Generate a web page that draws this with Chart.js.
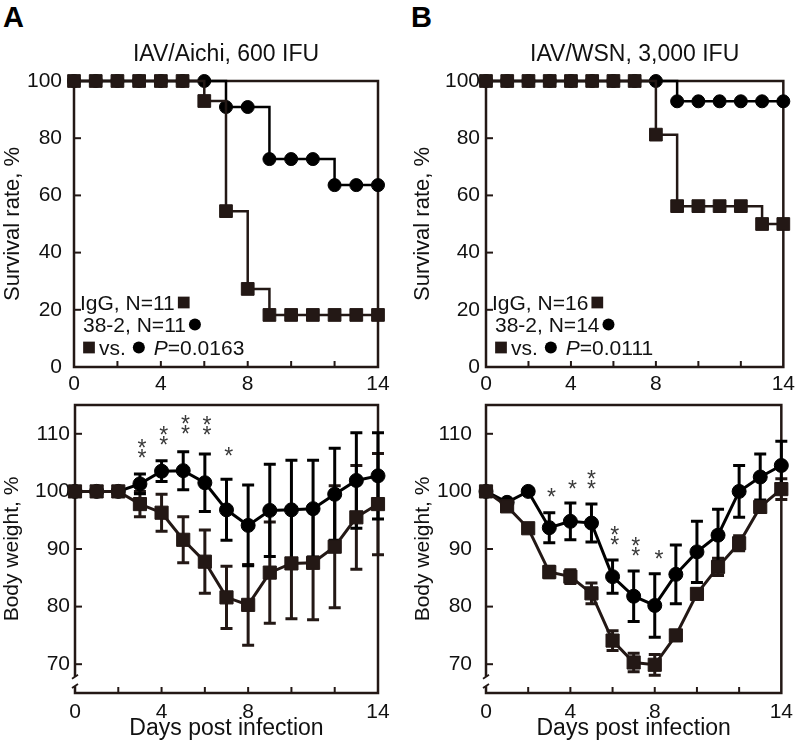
<!DOCTYPE html>
<html>
<head>
<meta charset="utf-8">
<script src="https://cdn.jsdelivr.net/npm/chart.js@4.4.1/dist/chart.umd.min.js"></script>
<style>
  html, body { margin: 0; padding: 0; background: #fff; }
  #wrap { position: relative; width: 800px; height: 749px; overflow: hidden; font-family: 'Liberation Sans', Arial, sans-serif; }
  canvas { position: absolute; }
  .panel { position: absolute; font-weight: bold; font-size: 29px; line-height: 29px; color: #000; }
</style>
</head>
<body>
<div id="wrap">
  <div class="panel" style="left:3px;top:3px">A</div>
  <div class="panel" style="left:411px;top:3px">B</div>
  <canvas id="survA" width="400" height="400" style="left:0;top:0"></canvas>
  <canvas id="survB" width="400" height="400" style="left:400px;top:0"></canvas>
  <canvas id="wtA" width="400" height="359" style="left:0;top:390px"></canvas>
  <canvas id="wtB" width="400" height="359" style="left:400px;top:390px"></canvas>
</div>
<script>
// jours et graduations
const days = [0, 1, 2, 3, 4, 5, 6, 7, 8, 9, 10, 11, 12, 13, 14];
const xTicks = [0, 2, 4, 6, 8, 10, 12, 14];
const xLabels = [0, 4, 8, 14];
const survTicks = [0, 20, 40, 60, 80, 100];
const weightTicks = [70, 80, 90, 100, 110];

// A : IAV/Aichi, 600 IFU
const survA_IgG = [100, 100, 100, 100, 100, 100, 93, 54.5, 27.3, 18.2, 18.2, 18.2, 18.2, 18.2, 18.2];
const survA_382 = [100, 100, 100, 100, 100, 100, 100, 90.9, 90.9, 72.7, 72.7, 72.7, 63.6, 63.6, 63.6];
const wtA_IgG = [100, 100, 100, 97.8, 96.3, 91.6, 87.8, 81.6, 80.3, 85.9, 87.5, 87.6, 90.4, 95.5, 97.8];
const sdA_IgG = [0.4, 0.4, 0.4, 2.2, 3.2, 4.0, 5.5, 5.4, 7.0, 8.8, 9.6, 9.9, 10.6, 9.0, 8.8];
const wtA_382 = [100, 100, 100, 101.3, 103.5, 103.6, 101.5, 96.8, 94.1, 96.7, 96.8, 97.0, 99.5, 101.9, 102.7];
const sdA_382 = [0.4, 0.4, 0.4, 1.7, 1.8, 3.3, 5.0, 5.3, 7.0, 8.0, 8.6, 8.4, 8.0, 8.3, 7.5];
const starA_day = [3.1, 4.1, 5.1, 6.1, 7.1];
const starA_val = [107.6, 109.8, 111.7, 111.5, 107.0];
const starA_n = [2, 2, 2, 2, 1];
const legendA = ['IgG, N=11', '38-2, N=11', '=0.0163'];

// B : IAV/WSN, 3,000 IFU
const survB_IgG = [100, 100, 100, 100, 100, 100, 100, 100, 81.25, 56.25, 56.25, 56.25, 56.25, 50, 50];
const survB_382 = [100, 100, 100, 100, 100, 100, 100, 100, 100, 92.9, 92.9, 92.9, 92.9, 92.9, 92.9];
const wtB_IgG = [100, 97.4, 93.6, 86.0, 85.2, 82.3, 74.1, 70.3, 69.9, 75.0, 82.2, 86.9, 91.0, 97.3, 100.4];
const sdB_IgG = [0.3, 0.6, 0.6, 1.0, 1.2, 1.8, 1.7, 1.6, 1.8, 0.5, 0.8, 1.5, 1.3, 0.8, 1.8];
const wtB_382 = [100, 98.1, 100, 93.7, 94.8, 94.5, 85.2, 81.8, 80.2, 85.6, 89.5, 92.4, 100, 102.5, 104.5];
const sdB_382 = [0.3, 0.5, 0.5, 2.6, 3.2, 3.3, 2.9, 4.4, 5.5, 5.1, 5.3, 4.5, 4.5, 4.0, 4.2];
const starB_day = [3.1, 4.1, 5.0, 6.1, 7.1, 8.2];
const starB_val = [99.9, 101.3, 102.2, 92.5, 90.6, 89.2];
const starB_n = [1, 1, 2, 2, 2, 1];
const legendB = ['IgG, N=16', '38-2, N=14', '=0.0111'];

const INK = '#231815';
const FONT = "'Liberation Sans', Arial, Helvetica, sans-serif";
Chart.defaults.font.family = FONT;
Chart.defaults.color = '#111';

function pts(vals) {
    return days.map((d, i) => ({ x: d, y: vals[i] }));
}

function series(vals, style, color, extra) {
    return Object.assign({
        data: pts(vals),
        borderColor: color,
        backgroundColor: color,
        pointBackgroundColor: color,
        pointBorderColor: color,
        pointBorderWidth: 1,
        pointStyle: style,
        clip: false,
    }, extra);
}

// cadre + graduations intérieures + coupure d'axe
function framePlugin(breakAt) {
    return {
        id: 'frame',
        beforeDatasetsDraw(chart) {
            const { ctx, chartArea: a, scales: { x, y } } = chart;
            ctx.save();
            ctx.strokeStyle = INK;
            ctx.lineWidth = 2.5;
            ctx.strokeRect(a.left, a.top, a.right - a.left, a.bottom - a.top);
            ctx.lineWidth = 2;
            x.ticks.forEach(t => {
                if (t.value <= x.min || t.value >= x.max) return;
                const px = x.getPixelForValue(t.value);
                ctx.beginPath();
                ctx.moveTo(px, a.bottom);
                ctx.lineTo(px, a.bottom - 6);
                ctx.stroke();
            });
            y.ticks.forEach(t => {
                if (t.value <= y.min || t.value >= y.max) return;
                const py = y.getPixelForValue(t.value);
                ctx.beginPath();
                ctx.moveTo(a.left, py);
                ctx.lineTo(a.left + 7, py);
                ctx.stroke();
            });
            if (breakAt) {
                const y1 = y.getPixelForValue(breakAt[0]);
                const y2 = y.getPixelForValue(breakAt[1]);
                ctx.fillStyle = '#fff';
                ctx.fillRect(a.left - 3, y1, 6, y2 - y1);
                ctx.lineWidth = 1.8;
                [y1, y2].forEach(yy => {
                    ctx.beginPath();
                    ctx.moveTo(a.left - 3, yy + 2);
                    ctx.lineTo(a.left + 3, yy - 2);
                    ctx.stroke();
                });
            }
            ctx.restore();
        }
    };
}

const errorBarPlugin = {
    id: 'errorBars',
    beforeDatasetsDraw(chart) {
        const { ctx, scales: { y } } = chart;
        ctx.save();
        ctx.lineWidth = 3;
        chart.data.datasets.forEach((ds, di) => {
            if (!ds.errors) return;
            ctx.strokeStyle = ds.borderColor;
            chart.getDatasetMeta(di).data.forEach((pt, i) => {
                const e = ds.errors[i];
                const v = ds.data[i].y;
                const top = y.getPixelForValue(v + e);
                const bot = y.getPixelForValue(v - e);
                ctx.beginPath();
                ctx.moveTo(pt.x, top); ctx.lineTo(pt.x, bot);
                ctx.moveTo(pt.x - 6, top); ctx.lineTo(pt.x + 6, top);
                ctx.moveTo(pt.x - 6, bot); ctx.lineTo(pt.x + 6, bot);
                ctx.stroke();
            });
        });
        ctx.restore();
    }
};

function starPlugin(sd, sv, sn) {
    return {
        id: 'stars',
        afterDatasetsDraw(chart) {
            const { ctx, scales: { x, y } } = chart;
            const size = 23;
            ctx.save();
            ctx.fillStyle = '#3a3a3a';
            ctx.font = size + 'px ' + FONT;
            ctx.textAlign = 'center';
            ctx.textBaseline = 'alphabetic';
            sd.forEach((d, i) => {
                const px = x.getPixelForValue(d);
                const py = y.getPixelForValue(sv[i]);
                const ys = sn[i] === 2 ? [py - 5, py + 5] : [py];
                ys.forEach(yy => ctx.fillText('*', px, yy + 0.575 * size));
            });
            ctx.restore();
        }
    };
}

function legendPlugin(lines) {
    return {
        id: 'survLegend',
        afterDraw(chart) {
            const { ctx, chartArea: a } = chart;
            const draw = Chart.helpers.drawPoint;
            const size = 21;
            const x0 = a.left + 6;
            const base = [310, 332, 355];
            const mid = b => b - 7.5;
            ctx.save();
            ctx.fillStyle = '#111';
            ctx.textAlign = 'left';
            ctx.textBaseline = 'alphabetic';
            ctx.font = size + 'px ' + FONT;
            // ligne 1
            ctx.fillText(lines[0], x0, base[0]);
            let w = ctx.measureText(lines[0]).width;
            ctx.fillStyle = INK;
            draw(ctx, { pointStyle: 'rect', radius: 8.3, rotation: 0 }, x0 + w + 9, mid(base[0]));
            // ligne 2
            ctx.fillStyle = '#111';
            ctx.fillText(lines[1], x0 + 3, base[1]);
            w = ctx.measureText(lines[1]).width;
            ctx.fillStyle = '#000';
            draw(ctx, { pointStyle: 'circle', radius: 6, rotation: 0 }, x0 + 3 + w + 9, mid(base[1]));
            // ligne 3
            let cx = x0 + 3;
            ctx.fillStyle = INK;
            draw(ctx, { pointStyle: 'rect', radius: 8.3, rotation: 0 }, cx + 6, mid(base[2]));
            cx += 16;
            ctx.fillStyle = '#111';
            ctx.fillText('vs.', cx, base[2]);
            cx += ctx.measureText('vs.').width;
            ctx.fillStyle = '#000';
            draw(ctx, { pointStyle: 'circle', radius: 6, rotation: 0 }, cx + 13, mid(base[2]));
            cx += 28;
            ctx.fillStyle = '#111';
            ctx.font = 'italic ' + size + 'px ' + FONT;
            ctx.fillText('P', cx, base[2]);
            cx += ctx.measureText('P').width;
            ctx.font = size + 'px ' + FONT;
            ctx.fillText(lines[2], cx, base[2]);
            ctx.restore();
        }
    };
}

function makePanel(id, cfg) {
    return new Chart(document.getElementById(id), {
        type: 'line',
        data: { datasets: cfg.datasets },
        options: {
            responsive: false,
            animation: false,
            events: [],
            layout: { padding: cfg.padding },
            plugins: {
                legend: { display: false },
                tooltip: { enabled: false },
                title: cfg.title ? {
                    display: true,
                    text: cfg.title,
                    fullSize: false,
                    color: '#111',
                    font: { size: 23, weight: 'normal' },
                    padding: { top: 40.8, bottom: 12.6 }
                } : { display: false }
            },
            scales: {
                x: {
                    type: 'linear',
                    min: 0,
                    max: 14,
                    grid: { display: false, drawTicks: false },
                    border: { display: false },
                    afterBuildTicks: s => { s.ticks = xTicks.map(v => ({ value: v })); },
                    afterFit: s => { s.height = cfg.xHeight; },
                    ticks: {
                        autoSkip: false,
                        maxRotation: 0,
                        padding: cfg.xPad,
                        color: '#111',
                        font: { size: 21 },
                        callback: v => xLabels.includes(v) ? String(v) : ''
                    },
                    title: cfg.xTitle ? {
                        display: true,
                        text: cfg.xTitle,
                        color: '#111',
                        font: { size: 23 },
                        padding: { top: 0, bottom: 7 }
                    } : { display: false }
                },
                y: {
                    min: cfg.yMin,
                    max: cfg.yMax,
                    afterBuildTicks: s => { s.ticks = cfg.yTicks.map(v => ({ value: v })); },
                    afterFit: s => { s.width = cfg.yWidth; },
                    // marques dessinées par le plugin, tickLength ne sert qu'à placer les libellés
                    grid: { display: false, drawTicks: true, tickLength: cfg.yGap },
                    border: { display: false },
                    ticks: { padding: 0, color: '#111', font: { size: 21 } },
                    title: {
                        display: true,
                        text: cfg.yTitle,
                        color: '#111',
                        font: { size: cfg.yTitleSize },
                        padding: { top: cfg.yTitlePad, bottom: 0 }
                    }
                }
            }
        },
        plugins: cfg.plugins
    });
}

const survStyle = { stepped: true, borderWidth: 2.5 };
const wtStyle = { borderWidth: 3 };

makePanel('survA', {
    title: 'IAV/Aichi, 600 IFU',
    padding: { top: 0, left: 0, right: 22, bottom: 0 },
    xHeight: 33, xPad: 5,
    yMin: 0, yMax: 100, yTicks: survTicks, yWidth: 74, yGap: 12,
    yTitle: 'Survival rate, %', yTitleSize: 22, yTitlePad: 0,
    datasets: [
        series(survA_IgG, 'rect', INK, Object.assign({ pointRadius: 9 }, survStyle)),
        series(survA_382, 'circle', '#000', Object.assign({ pointRadius: 6.5 }, survStyle))
    ],
    plugins: [framePlugin(null), legendPlugin(legendA)]
});

makePanel('survB', {
    title: 'IAV/WSN, 3,000 IFU',
    padding: { top: 0, left: 0, right: 12, bottom: 0 },
    xHeight: 33, xPad: 5,
    yMin: 0, yMax: 100, yTicks: survTicks, yWidth: 86, yGap: 6,
    yTitle: 'Survival rate, %', yTitleSize: 22, yTitlePad: 10,
    datasets: [
        series(survB_IgG, 'rect', INK, Object.assign({ pointRadius: 9 }, survStyle)),
        series(survB_382, 'circle', '#000', Object.assign({ pointRadius: 6.5 }, survStyle))
    ],
    plugins: [framePlugin(null), legendPlugin(legendB)]
});

makePanel('wtA', {
    padding: { top: 15, left: 0, right: 22, bottom: 0 },
    xHeight: 56, xPad: 7, xTitle: 'Days post infection',
    yMin: 65, yMax: 115, yTicks: weightTicks, yWidth: 75, yGap: 5,
    yTitle: 'Body weight, %', yTitleSize: 21, yTitlePad: 0,
    datasets: [
        series(wtA_IgG, 'rect', INK, Object.assign({ pointRadius: 9.3, errors: sdA_IgG }, wtStyle)),
        series(wtA_382, 'circle', '#000', Object.assign({ pointRadius: 7, errors: sdA_382 }, wtStyle))
    ],
    plugins: [framePlugin([67.8, 66.2]), errorBarPlugin, starPlugin(starA_day, starA_val, starA_n)]
});

makePanel('wtB', {
    padding: { top: 15, left: 0, right: 12, bottom: 0 },
    xHeight: 56, xPad: 7, xTitle: 'Days post infection',
    yMin: 65, yMax: 115, yTicks: weightTicks, yWidth: 86, yGap: 14,
    yTitle: 'Body weight, %', yTitleSize: 21, yTitlePad: 11,
    datasets: [
        series(wtB_IgG, 'rect', INK, Object.assign({ pointRadius: 9.3, errors: sdB_IgG }, wtStyle)),
        series(wtB_382, 'circle', '#000', Object.assign({ pointRadius: 7, errors: sdB_382 }, wtStyle))
    ],
    plugins: [framePlugin([67.8, 66.2]), errorBarPlugin, starPlugin(starB_day, starB_val, starB_n)]
});
</script>
</body>
</html>
